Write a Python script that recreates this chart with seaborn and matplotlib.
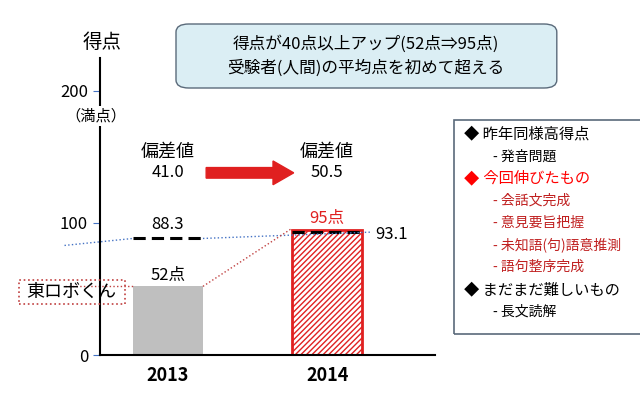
import matplotlib
matplotlib.use("Agg")
import matplotlib.pyplot as plt
import seaborn as sns
import pandas as pd
from matplotlib.patches import FancyBboxPatch, FancyArrow

plt.rcParams["font.family"] = "Noto Sans CJK JP"
plt.rcParams["hatch.color"] = "#d04040"

years = ["2013", "2014"]
scores = [52, 95]
averages = [88.3, 93.1]
deviations = ["41.0", "50.5"]
yticks = [0, 100, 200]

df = pd.DataFrame({"year": years, "score": scores})
fig = plt.figure(figsize=(6.4, 4.0), dpi=100)
ax = fig.add_axes([0.156, 0.1125, 0.524, 0.7425])
sns.barplot(data=df, x="year", y="score", ax=ax, width=0.44, palette=["#bfbfbf", "white"], hue="year", legend=False)
b2 = ax.patches[1]
b2.set_edgecolor("#e02020"); b2.set_linewidth(2); b2.set_hatch("//////")
ax.set_xlim(-0.428, 1.679); ax.set_ylim(0, 225)
ax.set_yticks(yticks); ax.set_yticklabels(["0", "100", "200"], fontsize=12)
ax.tick_params(axis="y", length=5, color="#4472c4", direction="out")
ax.tick_params(axis="x", length=0, labelsize=13, pad=8)
for t in ax.get_xticklabels(): t.set_fontweight("bold")
ax.set_xlabel(""); ax.set_ylabel("")
sns.despine(ax=ax)
for s in ["left", "bottom"]:
    ax.spines[s].set_linewidth(1.5)

for i, a in enumerate(averages):
    ax.plot([i - 0.22, i + 0.22], [a, a], ls=(0, (4, 2)), color="black", lw=2.2)
ax.text(0, averages[0] + 4, "88.3", ha="center", va="bottom", fontsize=12)
ax.text(1.3, averages[1] - 2, "93.1", ha="left", va="center", fontsize=12)
ax.text(0, scores[0] + 2, "52点", ha="center", va="bottom", fontsize=12)
ax.text(1, scores[1] + 2, "95点", ha="center", va="bottom", fontsize=12, color="#e02020")
ax.plot([-0.65, -0.22], [83, averages[0]], ls=":", color="#4472c4", lw=1, clip_on=False)
ax.plot([0.22, 1.28], [averages[0], averages[1]], ls=":", color="#4472c4", lw=1, clip_on=False)
ax.plot([-0.65, -0.22], [52, 52], ls=":", color="#c04040", lw=1, clip_on=False)
ax.plot([0.22, 0.78], [52, 96], ls=":", color="#c04040", lw=1)
ax.text(0, 150, "偏差値", ha="center", fontsize=13)
ax.text(0, 135, deviations[0], ha="center", fontsize=12)
ax.text(1, 150, "偏差値", ha="center", fontsize=13)
ax.text(1, 135, deviations[1], ha="center", fontsize=12)
ax.add_patch(FancyArrow(0.24, 138, 0.55, 0, width=8, head_width=18, head_length=0.13, color="#e02020", length_includes_head=True, zorder=3))

fig.text(0.16, 0.895, "得点", ha="center", va="center", fontsize=14)
fig.text(0.15, 0.71, "（満点）", ha="center", va="center", fontsize=11, zorder=10,
         bbox=dict(fc="white", ec="none", pad=1))
box = FancyBboxPatch((0.03, 0.24), 0.165, 0.06, boxstyle="square,pad=0", transform=fig.transFigure, fill=False, ec="#c04040", ls=":", lw=1.2)
fig.add_artist(box)
fig.text(0.112, 0.27, "東ロボくん", ha="center", va="center", fontsize=13)

tb = FancyBboxPatch((0.28, 0.785), 0.585, 0.15, boxstyle="round,pad=0.005,rounding_size=0.02", transform=fig.transFigure, fc="#dbeef4", ec="#5a6a7a", lw=1)
fig.add_artist(tb)
fig.text(0.572, 0.89, "得点が40点以上アップ(52点⇒95点)", ha="center", va="center", fontsize=12)
fig.text(0.572, 0.83, "受験者(人間)の平均点を初めて超える", ha="center", va="center", fontsize=12)

rb = FancyBboxPatch((0.71, 0.165), 0.31, 0.535, boxstyle="square,pad=0", transform=fig.transFigure, fill=False, ec="#5a6a7a", lw=1.2)
fig.add_artist(rb)
items = [("◆ 昨年同様高得点", "black", 0.725), ("- 発音問題", "black", 0.77), ("◆ 今回伸びたもの", "red", 0.725),
         ("- 会話文完成", "#c02020", 0.77), ("- 意見要旨把握", "#c02020", 0.77), ("- 未知語(句)語意推測", "#c02020", 0.77),
         ("- 語句整序完成", "#c02020", 0.77), ("◆ まだまだ難しいもの", "black", 0.725), ("- 長文読解", "black", 0.77)]
y = 0.665
for t, c, x in items:
    if t.startswith("◆") and c == "red":
        fig.text(x, y, "◆", color="red", fontsize=11, va="center")
        fig.text(x + 0.025, y, t[1:], color="red", fontsize=11, va="center")
    else:
        fig.text(x, y, t, color=c, fontsize=11 if x < 0.75 else 10, va="center")
    y -= 0.0555
fig.savefig("out.png", dpi=100)
